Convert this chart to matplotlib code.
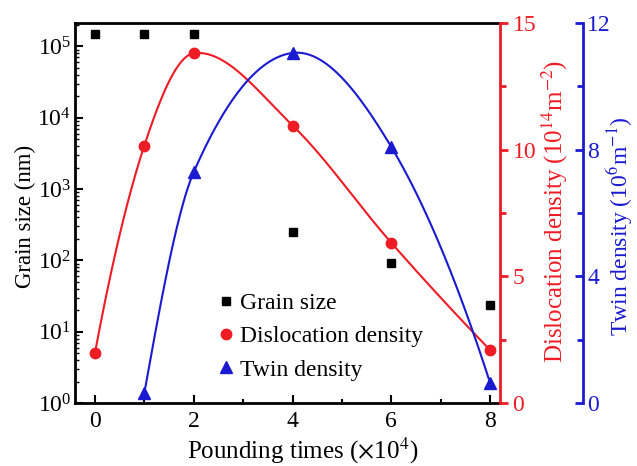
import numpy as np
import matplotlib
matplotlib.use("Agg")
from matplotlib import pyplot as plt
from matplotlib.ticker import MultipleLocator, LogLocator, NullFormatter

plt.rcParams['font.family'] = ['Liberation Serif', 'DejaVu Serif']
plt.rcParams['mathtext.fontset'] = 'stix'

# data
grain_x = [0, 1, 2, 4, 6, 8]
grain_nm = [1.5e5, 1.5e5, 1.5e5, 250, 92, 24]

disl_x = [0, 1, 2, 4, 6, 8]
disl_val = [1.97, 10.16, 13.8, 10.95, 6.32, 2.09]

twin_x = [1, 2, 4, 6, 8]
twin_val = [0.32, 7.29, 11.05, 8.08, 0.63]

RED = '#ee1c24'
BLUE = '#1a1ad0'


def smooth(x, y, n=300):
    # cubic hermite with central-difference slopes (catmull-rom style)
    x = np.asarray(x, float)
    y = np.asarray(y, float)
    h = np.diff(x)
    dl = np.diff(y) / h
    m = len(x)
    d = np.zeros(m)
    for i in range(1, m - 1):
        d[i] = (y[i + 1] - y[i - 1]) / (x[i + 1] - x[i - 1])
    d[0] = ((2 * h[0] + h[1]) * dl[0] - h[0] * dl[1]) / (h[0] + h[1])
    d[-1] = ((2 * h[-1] + h[-2]) * dl[-1] - h[-1] * dl[-2]) / (h[-1] + h[-2])
    xs = np.linspace(x[0], x[-1], n)
    ys = np.zeros_like(xs)
    for k, xv in enumerate(xs):
        i = min(np.searchsorted(x, xv, side='right') - 1, m - 2)
        t = (xv - x[i]) / h[i]
        h00 = 2 * t ** 3 - 3 * t ** 2 + 1
        h10 = t ** 3 - 2 * t ** 2 + t
        h01 = -2 * t ** 3 + 3 * t ** 2
        h11 = t ** 3 - t ** 2
        ys[k] = h00 * y[i] + h10 * h[i] * d[i] + h01 * y[i + 1] + h11 * h[i] * d[i + 1]
    return xs, ys


fig = plt.figure(figsize=(6.37, 4.66), dpi=100)
ax = fig.add_axes([0.118, 0.135, 0.667, 0.816])

ax.set_yscale('log')
ax.set_xlim(-0.4, 8.2)
ax.set_ylim(1, 10 ** 5.33)
h1, = ax.plot(grain_x, grain_nm, 's', color='black', ms=6, ls='none', label='Grain size')
ax.xaxis.set_major_locator(MultipleLocator(2))
ax.xaxis.set_minor_locator(MultipleLocator(1))
ax.yaxis.set_major_locator(LogLocator(base=10, numticks=10))
ax.yaxis.set_minor_locator(LogLocator(base=10, subs=np.arange(2, 10), numticks=20))
ax.yaxis.set_minor_formatter(NullFormatter())
ax.tick_params(axis='both', which='both', direction='in', labelsize=17, width=1.5)
ax.tick_params(which='major', length=6)
ax.tick_params(which='minor', length=3)
ax.tick_params(axis='y', which='minor', width=1)
ax.tick_params(axis='x', which='major', pad=6)
ax.tick_params(axis='y', which='major', pad=3)
for s in ['left', 'bottom', 'top']:
    ax.spines[s].set_linewidth(2)
ax.set_xlabel(r'Pounding times ($\times$10$^{4}$)', fontsize=18)
ax.set_ylabel('Grain size (nm)', fontsize=16.5)
ax.xaxis.set_label_coords(0.535, -0.085)
ax.yaxis.set_label_coords(-0.092, 0.49)

ax2 = ax.twinx()
ax2.set_ylim(0, 15)
xs, ys = smooth(disl_x, disl_val)
ax2.plot(xs, ys, color=RED, lw=1.5)
h2, = ax2.plot(disl_x, disl_val, 'o', color=RED, ms=7.5, ls='none', label='Dislocation density')
ax2.yaxis.set_major_locator(MultipleLocator(5))
ax2.yaxis.set_minor_locator(MultipleLocator(2.5))
ax2.tick_params(axis='y', which='both', direction='out', colors=RED, labelsize=17, width=2, pad=3)
ax2.tick_params(which='major', length=6)
ax2.tick_params(which='minor', length=4)
ax2.spines['right'].set_color(RED)
ax2.spines['right'].set_linewidth(2)
for s in ['left', 'bottom', 'top']:
    ax2.spines[s].set_visible(False)
ax2.set_ylabel(r'Dislocation density (10$^{14}$m$^{-2}$)', fontsize=18, color=RED)
ax2.yaxis.set_label_coords(1.094, 0.505)

ax3 = ax.twinx()
ax3.spines['right'].set_position(('axes', 1.195))
ax3.set_ylim(0, 12)
xs, ys = smooth(twin_x, twin_val)
ax3.plot(xs, ys, color=BLUE, lw=1.5)
h3, = ax3.plot(twin_x, twin_val, '^', color=BLUE, ms=8, ls='none', label='Twin density')
ax3.yaxis.set_major_locator(MultipleLocator(4))
ax3.yaxis.set_minor_locator(MultipleLocator(2))
ax3.tick_params(axis='y', which='both', direction='in', colors=BLUE, labelsize=17, width=2, pad=3)
ax3.tick_params(which='major', length=6)
ax3.tick_params(which='minor', length=4)
ax3.spines['right'].set_color(BLUE)
ax3.spines['right'].set_linewidth(2)
for s in ['left', 'bottom', 'top']:
    ax3.spines[s].set_visible(False)
ax3.set_ylabel(r'Twin density (10$^{6}$m$^{-1}$)', fontsize=17, color=BLUE)
ax3.yaxis.set_label_coords(1.245, 0.466)

leg = ax3.legend(handles=[h1, h2, h3], loc='lower left', bbox_to_anchor=(0.307, 0.034),
                 frameon=False, fontsize=17, handletextpad=0.15, handlelength=0.9,
                 labelspacing=0.5, borderaxespad=0)

fig.savefig('out.png', dpi=100)
